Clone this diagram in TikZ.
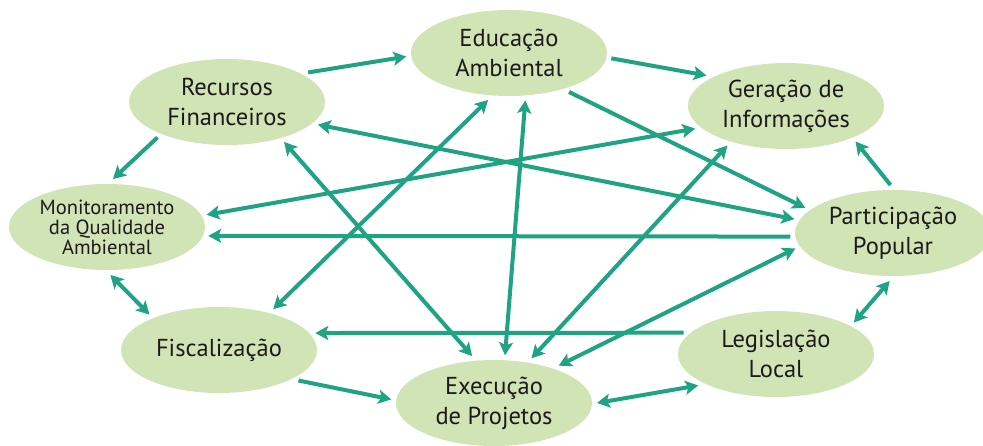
\documentclass[tikz,border=0pt]{standalone}
\usepackage{fontspec}
\setmainfont{PT Sans}
\usetikzlibrary{arrows.meta, shapes.geometric}
\definecolor{leafgreen}{HTML}{D0E4B6}
\definecolor{tealline}{HTML}{1FA382}
\definecolor{inkdark}{HTML}{1E1A1B}

\begin{document}
\begin{tikzpicture}[x=1pt, y=-1pt,
    >={Stealth[length=13pt, width=14pt, inset=3pt]},
    topic/.style={ellipse, fill=leafgreen, text=inkdark, inner sep=0pt, outer sep=5pt,
      minimum width=196pt, minimum height=86pt, align=center,
      font=\fontsize{24.5}{30}\selectfont},
    link/.style={draw=tealline, line width=4pt, ->},
    both/.style={draw=tealline, line width=4pt, <->}]
      % Fix the size of the picture
      \useasboundingbox (0,0) rectangle (983,445);

      % Place the topics
      \node[topic] (recursos) at (227,102) {Recursos\\Financeiros};
      \node[topic] (educacao) at (509,53) {Educação\\Ambiental};
      \node[topic] (geracao) at (786,106) {Geração de\\Informações};
      \node[topic, font=\fontsize{20.5}{20}\selectfont] (monitor) at (107,227) {Monitoramento\\da Qualidade\\Ambiental};
      \node[topic] (particip) at (893,233) {Participação\\Popular};
      \node[topic] (fiscal) at (219,350) {Fiscalização};
      \node[topic] (execucao) at (494,403) {Execução\\de Projetos};
      \node[topic] (legis) at (776,354) {Legislação\\Local};

      % Arrows round the ring
      \draw[link] (recursos.20) -- (educacao.182);
      \draw[link] (educacao.-3) -- (geracao.159);
      \draw[link] (recursos.207) -- (monitor.83);
      \draw[both] (monitor.274) -- (fiscal.153);
      \draw[link] (fiscal.-21) -- (execucao.178);
      \draw[both] (execucao.0) -- (legis.202);
      \draw[both] (legis.22) -- (particip.266);
      \draw[link] (particip.93) -- (geracao.-27);

      % Arrows across the ring
      \draw[link] (educacao.-33) -- (particip.164);
      \draw[both] (recursos.-14) -- (particip.172);
      \draw[both] (monitor.7) -- (geracao.194);
      \draw[link] (particip.182) -- (monitor.-5);
      \draw[link] (legis.167) -- (fiscal.10);
      \draw[both] (recursos.-35) -- (execucao.115);
      \draw[both] (educacao.246) -- (fiscal.37);
      \draw[both] (educacao.-71) -- (execucao.77);
      \draw[both] (geracao.214) -- (execucao.50);
      \draw[both] (particip.189) -- (execucao.30);
    \end{tikzpicture}
\end{document}
